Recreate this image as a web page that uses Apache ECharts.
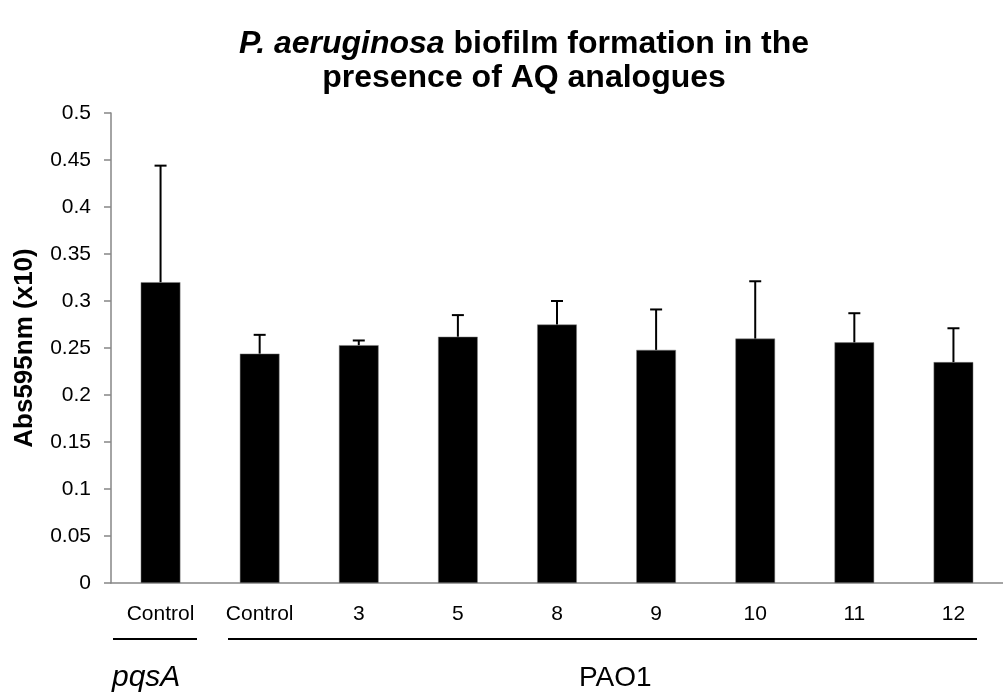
<!DOCTYPE html>
<html>
<head>
<meta charset="utf-8">
<script src="https://cdn.jsdelivr.net/npm/echarts@6/dist/echarts.min.js"></script>
<style>
html,body{margin:0;padding:0;background:#fff;}
#chart{width:1003px;height:698px;}
</style>
</head>
<body>
<div id="chart"></div>
<script>
const categories = ['Control', 'Control', '3', '5', '8', '9', '10', '11', '12'];
const means = [0.320, 0.244, 0.253, 0.262, 0.275, 0.248, 0.260, 0.256, 0.235];
const errors = [0.124, 0.020, 0.005, 0.023, 0.025, 0.043, 0.061, 0.031, 0.036];
const yTicks = { min: 0, max: 0.5, interval: 0.05 };

const FONT = '"Liberation Sans", Arial, sans-serif';
const chart = echarts.init(document.getElementById('chart'), null, { renderer: 'canvas' });

const errData = means.map((m, i) => [i, m, m + errors[i]]);

chart.setOption({
  animation: false,
  backgroundColor: '#fff',
  title: {
    text: '{i|P. aeruginosa} biofilm formation in the\npresence of AQ analogues',
    left: 519,
    textAlign: 'center',
    top: 22,
    textStyle: {
      fontFamily: FONT, fontWeight: 'bold', fontSize: 32, color: '#000', lineHeight: 34,
      rich: { i: { fontFamily: FONT, fontWeight: 'bold', fontStyle: 'italic', fontSize: 32, color: '#000', lineHeight: 34 } }
    }
  },
  grid: { left: 111, top: 113, width: 904, height: 470, containLabel: false },
  xAxis: {
    type: 'category',
    data: categories,
    boundaryGap: true,
    axisLine: { show: true, lineStyle: { color: '#868686', width: 1.5 } },
    axisTick: { show: false },
    axisLabel: { color: '#000', fontFamily: FONT, fontSize: 21, margin: 21, interval: 0 },
    splitLine: { show: false }
  },
  yAxis: {
    type: 'value',
    min: yTicks.min, max: yTicks.max, interval: yTicks.interval,
    name: 'Abs595nm (x10)',
    nameLocation: 'middle',
    nameGap: 73,
    nameTextStyle: { fontFamily: FONT, fontWeight: 'bold', fontSize: 26, color: '#000' },
    axisLine: { show: true, lineStyle: { color: '#868686', width: 1.5 } },
    axisTick: { show: true, length: 7, lineStyle: { color: '#868686', width: 1.5 } },
    axisLabel: { color: '#000', fontFamily: FONT, fontSize: 21, margin: 20 },
    splitLine: { show: false }
  },
  series: [
    {
      type: 'bar',
      data: means,
      barWidth: '40%',
      itemStyle: { color: '#000', borderColor: '#808080', borderWidth: 0.5 },
      z: 2
    },
    {
      type: 'custom',
      data: errData,
      z: 3,
      renderItem: function (params, api) {
        const x = api.value(0);
        const low = api.coord([x, api.value(1)]);
        const high = api.coord([x, api.value(2)]);
        const cap = 6;
        const style = { stroke: '#000', lineWidth: 2 };
        return {
          type: 'group',
          children: [
            { type: 'line', shape: { x1: low[0], y1: low[1], x2: high[0], y2: high[1] }, style: style },
            { type: 'line', shape: { x1: high[0] - cap, y1: high[1], x2: high[0] + cap, y2: high[1] }, style: style }
          ]
        };
      }
    }
  ],
  graphic: [
    { type: 'line', shape: { x1: 113, y1: 639, x2: 197, y2: 639 }, style: { stroke: '#000', lineWidth: 2 } },
    { type: 'line', shape: { x1: 228, y1: 639, x2: 977, y2: 639 }, style: { stroke: '#000', lineWidth: 2 } },
    { type: 'text', left: 112, top: 663, style: { text: 'pqsA', font: 'italic 30px ' + FONT, fill: '#000' } },
    { type: 'text', left: 579, top: 664, style: { text: 'PAO1', font: '28px ' + FONT, fill: '#000' } }
  ]
});
</script>
</body>
</html>
